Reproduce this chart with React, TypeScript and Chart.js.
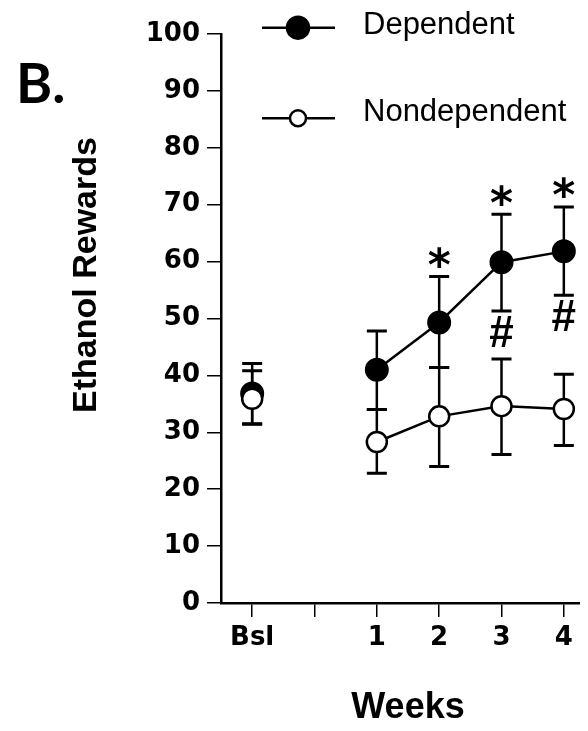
import { useEffect, useRef } from 'react';
import { Chart, registerables } from 'chart.js';

Chart.register(...registerables);

// ---- data ----
const categories = ['Bsl', '', '1', '2', '3', '4'];
const seriesNames = ['Dependent', 'Nondependent'];
const dependentMean = [36.8, null, 41.0, 49.3, 59.9, 61.8];
const dependentUpper = [42.1, null, 47.8, 57.4, 68.3, 69.6];
const dependentLower = [31.5, null, 34.0, 41.4, 51.3, 54.1];
const nondependentMean = [35.9, null, 28.3, 32.8, 34.6, 34.1];
const nondependentUpper = [40.8, null, 34.0, 41.4, 42.9, 40.2];
const nondependentLower = [31.4, null, 22.8, 24.0, 26.1, 27.7];
const starMarks = ['', '', '', '*', '*', '*'];
const hashMarks = ['', '', '', '', '#', '#'];
const yMin = 0;
const yMax = 100;
const yStep = 10;
const yAxisTitle = 'Ethanol Rewards';
const xAxisTitle = 'Weeks';
const panelLabel = 'B.';

const TICKFAM = 'DejaVu Sans';
const TITLEFAM = 'Liberation Sans';

export default function App() {
  const ref = useRef<HTMLCanvasElement>(null);

  useEffect(() => {
    const canvas = ref.current;
    if (!canvas) return;

    const errorBars = {
      id: 'errorBars',
      beforeDatasetsDraw(chart: any) {
        const { ctx } = chart;
        const ys = chart.scales.y;
        const sets: [number, (number | null)[], (number | null)[]][] = [
          [0, dependentUpper, dependentLower],
          [1, nondependentUpper, nondependentLower],
        ];
        ctx.save();
        ctx.strokeStyle = '#000';
        for (const [idx, up, lo] of sets) {
          const meta = chart.getDatasetMeta(idx);
          meta.data.forEach((pt: any, j: number) => {
            const u = up[j];
            const l = lo[j];
            if (u == null || l == null) return;
            const x = pt.x;
            const yt = ys.getPixelForValue(u);
            const yb = ys.getPixelForValue(l);
            ctx.lineWidth = 2.5;
            ctx.beginPath();
            ctx.moveTo(x, yt);
            ctx.lineTo(x, yb);
            ctx.stroke();
            ctx.lineWidth = 3;
            ctx.beginPath();
            ctx.moveTo(x - 10, yt);
            ctx.lineTo(x + 10, yt);
            ctx.moveTo(x - 10, yb);
            ctx.lineTo(x + 10, yb);
            ctx.stroke();
          });
        }
        ctx.restore();
      },
    };

    const decorations = {
      id: 'decorations',
      afterDraw(chart: any) {
        const { ctx } = chart;
        const ys = chart.scales.y;
        const meta = chart.getDatasetMeta(0);
        ctx.save();
        ctx.fillStyle = '#000';
        ctx.strokeStyle = '#000';

        // significance marks
        ctx.textAlign = 'center';
        ctx.textBaseline = 'alphabetic';
        starMarks.forEach((s, j) => {
          const u = dependentUpper[j];
          if (!s || u == null) return;
          const x = meta.data[j].x;
          const cy = ys.getPixelForValue(u) - 23;
          ctx.font = 'bold 44px "DejaVu Sans"';
          ctx.fillText(s, x, cy + 0.6 * 44);
        });
        hashMarks.forEach((s, j) => {
          const l = dependentLower[j];
          if (!s || l == null) return;
          const x = meta.data[j].x;
          const cy = ys.getPixelForValue(l) + 20;
          ctx.font = 'bold 44px "Liberation Sans"';
          ctx.fillText(s, x, cy + 0.36 * 44);
        });

        // legend
        const rows = [
          { y: 19.7, text: seriesNames[0], fill: '#000', r: 11, tb: 26.3 },
          { y: 110.3, text: seriesNames[1], fill: '#fff', r: 8, tb: 113 },
        ];
        for (const row of rows) {
          ctx.lineWidth = 2.5;
          ctx.beginPath();
          ctx.moveTo(254, row.y);
          ctx.lineTo(327, row.y);
          ctx.stroke();
          ctx.beginPath();
          ctx.arc(290, row.y, row.r, 0, Math.PI * 2);
          ctx.fillStyle = row.fill;
          ctx.fill();
          ctx.stroke();
          ctx.fillStyle = '#000';
          ctx.font = '31px "Liberation Sans"';
          ctx.textAlign = 'left';
          ctx.textBaseline = 'alphabetic';
          ctx.fillText(row.text, 355, row.tb);
        }

        // y axis title
        ctx.save();
        ctx.translate(88, 267);
        ctx.rotate(-Math.PI / 2);
        ctx.font = `bold 34px "${TITLEFAM}"`;
        ctx.textAlign = 'center';
        ctx.textBaseline = 'alphabetic';
        ctx.fillText(yAxisTitle, 0, 0);
        ctx.restore();

        // panel label
        ctx.font = 'bold 55px Lato';
        ctx.textAlign = 'left';
        ctx.textBaseline = 'alphabetic';
        ctx.fillText(panelLabel, 8, 95);

        ctx.restore();
      },
    };

    const tickFont = { family: TICKFAM, weight: 'bold' as const, size: 26 };

    const chart = new Chart(canvas, {
      type: 'line',
      data: {
        labels: categories,
        datasets: [
          {
            label: seriesNames[0],
            data: dependentMean,
            borderColor: '#000',
            backgroundColor: '#000',
            borderWidth: 2.5,
            pointRadius: 11,
            pointBorderWidth: 2,
            pointBackgroundColor: '#000',
            pointBorderColor: '#000',
            spanGaps: false,
            tension: 0,
            order: 1,
            clip: false as any,
          },
          {
            label: seriesNames[1],
            data: nondependentMean,
            borderColor: '#000',
            backgroundColor: '#fff',
            borderWidth: 2.5,
            pointRadius: 10,
            pointBorderWidth: 2.5,
            pointBackgroundColor: '#fff',
            pointBorderColor: '#000',
            spanGaps: false,
            tension: 0,
            order: 0,
            clip: false as any,
          },
        ],
      },
      options: {
        responsive: false,
        animation: false,
        layout: { padding: { top: 26, right: 7, left: 0, bottom: 0 } },
        plugins: {
          legend: { display: false },
          tooltip: { enabled: false },
        },
        scales: {
          x: {
            type: 'category',
            offset: true,
            grid: {
              display: true,
              drawOnChartArea: false,
              drawTicks: true,
              tickLength: 14,
              color: '#000',
              lineWidth: 1.5,
              offset: false,
            },
            border: { display: true, color: '#000', width: 2.5 },
            ticks: {
              color: '#000',
              font: tickFont,
              padding: 6,
              autoSkip: false,
              maxRotation: 0,
            },
            title: {
              display: true,
              text: xAxisTitle,
              color: '#000',
              font: { family: TITLEFAM, weight: 'bold', size: 36, lineHeight: 1 },
              padding: { top: 0, bottom: -3 },
            },
            afterFit: (s: any) => {
              s.height = 120;
            },
          },
          y: {
            min: yMin,
            max: yMax,
            ticks: {
              stepSize: yStep,
              color: '#000',
              font: tickFont,
              padding: 7,
            },
            grid: {
              display: true,
              drawOnChartArea: false,
              drawTicks: true,
              tickLength: 14,
              color: '#000',
              lineWidth: 1.5,
            },
            border: { display: true, color: '#000', width: 2.5 },
            afterFit: (s: any) => {
              s.width = 213;
            },
          },
        },
      },
      plugins: [errorBars, decorations],
    });

    return () => chart.destroy();
  }, []);

  return (
    <div style={{ width: 580, height: 715, overflow: 'hidden', marginRight: -8 }}>
      <canvas ref={ref} width={600} height={715} style={{ display: 'block', width: 600, height: 715 }} />
    </div>
  );
}
